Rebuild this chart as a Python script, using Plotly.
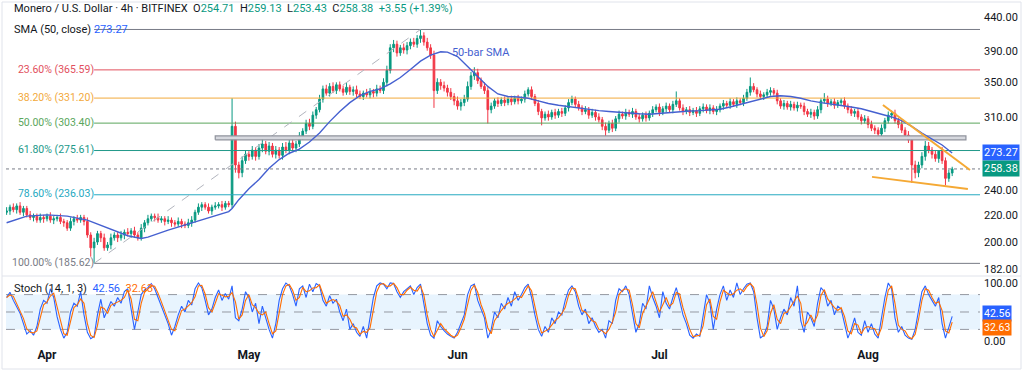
import math
import pandas as pd
import plotly.graph_objects as go

# ---------------- data ----------------
bar_start = "2025-03-26 00:00"   # 12h bars
first_open = 222
closes = [
    223, 226, 224, 227, 222, 225, 220, 218, 219, 216, 218, 217, 219, 216, 217, 218, 215, 214, 210, 215,
    217, 216, 218, 215, 205,
    196, 200, 206, 203, 196, 198, 203, 205, 203, 205, 207, 206, 208, 205, 203, 210,
    214, 217, 219, 218, 216, 217, 215, 216, 214, 213, 215, 213, 212, 214, 216, 222, 226, 228, 226, 223,
    226, 227, 228, 226, 229, 228,
    300, 262, 255, 266, 272, 270,
    276, 270, 278, 282, 275, 280, 272, 276, 271, 279, 276, 283, 278, 282,
    290, 295, 303, 300, 312, 318, 330, 342, 337,
    345, 340, 347, 342, 338, 344, 339, 341, 336, 333, 337, 335, 339, 337, 342, 340, 350,
    365, 395, 400, 388, 395, 392, 398, 403, 400, 408, 412, 403, 395, 385,
    340, 350, 346, 343, 338, 333, 328, 322, 326, 330, 345, 358, 362, 352,
    345, 340, 318, 322, 328, 325, 329, 326, 330, 327, 331, 328, 330, 336, 341, 333,
    325, 316, 309, 313, 310, 315, 312, 316, 314, 320, 326, 330,
    324, 320, 316, 318, 312, 315, 310, 307, 300, 296, 303, 298, 308, 313, 311, 315,
    313, 316, 310, 308, 312, 309, 314, 318, 321, 315, 319, 322, 318, 324, 328,
    320, 316, 318, 315, 317, 314, 319, 321, 317, 320, 316, 318, 322, 325,
    323, 327, 324, 328, 326, 331, 338, 345, 341, 336, 333,
    335, 338, 340, 337, 328, 322, 325, 321, 324, 320, 323, 322,
    316, 313, 315, 311, 318, 328, 330, 325, 327, 323, 326, 328,
    322, 318, 314, 316, 310, 306, 308, 302, 298, 296, 292, 298, 306, 312,
    314, 306, 302, 296, 291, 286,
    262, 255, 262, 270, 280, 276, 272, 268, 275, 266, 250, 254.71, 258.38,
]
# upper / lower wick lengths of each bar
hi_wick = [
    3, 2, 3, 2, 3, 2, 2, 3, 2, 2, 3, 2, 2, 3, 2, 2, 3, 2, 2, 3,
    2, 3, 2, 2, 3, 2, 3, 2, 2, 3, 2, 3, 2, 2, 3, 2, 3, 2, 3, 2,
    3, 2, 3, 2, 2, 3, 2, 2, 3, 2, 2, 3, 2, 2, 3, 3, 2, 3, 2, 2,
    3, 2, 3, 2, 3, 2, 2, 31, 5, 3, 4, 4, 3, 4, 3, 4, 5, 3, 4, 3,
    4, 3, 4, 5, 3, 4, 3, 4, 3, 4, 5, 4, 3, 5, 4, 5, 4, 5, 3, 4,
    4, 5, 3, 4, 5, 4, 3, 5, 4, 3, 5, 4, 5, 6, 5, 6, 5, 4, 6, 5,
    5, 6, 5, 9.18, 5, 6, 5, 6, 5, 4, 5, 4, 5, 4, 5, 4, 5, 6, 5, 7,
    5, 4, 5, 4, 4, 3, 4, 3, 4, 3, 4, 3, 4, 3, 4, 3, 4, 3, 4, 3,
    3, 4, 3, 4, 3, 4, 3, 4, 4, 3, 4, 3, 4, 3, 4, 3, 4, 3, 4, 3,
    4, 3, 4, 3, 4, 3, 4, 3, 4, 3, 4, 3, 4, 3, 4, 3, 4, 3, 4, 11,
    3, 4, 3, 4, 3, 4, 3, 4, 3, 4, 3, 4, 3, 4, 3, 4, 3, 4, 3, 4,
    4, 11, 4, 3, 4, 3, 4, 4, 3, 4, 3, 4, 3, 4, 3, 4, 3, 4, 3, 4,
    3, 4, 3, 7, 4, 3, 4, 3, 3, 4, 3, 4, 3, 4, 3, 4, 3, 4, 3, 3,
    4, 3, 4, 3, 4, 3, 4, 3, 4, 3, 4, 3, 4, 5, 4, 3, 4, 1, 4, 3, 3, 2,
]
lo_wick = [
    2, 3, 2, 3, 2, 3, 2, 2, 3, 2, 2, 3, 2, 2, 3, 2, 2, 3, 2, 2,
    3, 2, 2, 3, 2, 6, 10.38, 2, 3, 2, 2, 3, 2, 3, 2, 3, 2, 3, 2, 2,
    2, 3, 2, 2, 3, 2, 2, 3, 2, 3, 2, 2, 3, 2, 2, 3, 2, 2, 3, 2,
    2, 3, 2, 2, 3, 2, 2, 3, 7, 5, 4, 3, 4, 3, 4, 3, 4, 3, 4, 3,
    4, 3, 4, 3, 4, 3, 4, 3, 4, 3, 4, 3, 4, 3, 4, 3, 4, 3, 4, 3,
    4, 3, 4, 5, 4, 3, 4, 3, 4, 5, 4, 3, 4, 5, 4, 6, 5, 4, 5, 6,
    5, 4, 5, 6, 5, 4, 5, 20, 4, 5, 4, 5, 4, 5, 4, 5, 4, 3, 4, 5,
    4, 3, 4, 15, 4, 3, 4, 3, 4, 3, 4, 3, 4, 3, 4, 3, 4, 3, 4, 8,
    3, 4, 3, 4, 3, 4, 3, 4, 3, 4, 3, 4, 3, 4, 3, 4, 3, 4, 7, 3,
    4, 3, 4, 3, 4, 3, 4, 3, 4, 3, 4, 3, 4, 3, 4, 3, 4, 3, 4, 3,
    3, 4, 3, 4, 3, 4, 3, 4, 3, 4, 3, 4, 3, 4, 3, 4, 3, 4, 3, 4,
    3, 4, 3, 4, 3, 4, 3, 4, 3, 4, 3, 4, 3, 4, 3, 4, 3, 4, 3, 4,
    4, 3, 4, 3, 4, 3, 4, 3, 4, 3, 4, 3, 4, 3, 4, 3, 4, 3, 4, 3,
    3, 4, 3, 4, 3, 4, 3, 4, 3, 16, 5, 4, 3, 4, 3, 4, 3, 4, 3, 6, 3, 2.7,
]
# 50-bar SMA, sampled at bar indices
sma_idx = [0, 6, 12, 18, 24, 30, 36, 40, 42, 48, 54, 60, 66, 67, 69, 72, 75, 78, 81, 84, 87, 90, 93, 96,
           99, 102, 105, 108, 111, 114, 117, 120, 123, 126, 129, 131, 134, 137, 140, 143, 146, 149, 152,
           155, 158, 161, 164, 167, 170, 173, 176, 179, 182, 185, 188, 191, 194, 197, 200, 203, 206, 209,
           212, 215, 218, 221, 224, 227, 230, 233, 236, 239, 242, 245, 248, 251, 254, 257, 260, 263, 266,
           269, 272, 275, 278, 281]
sma_vals = [214, 219, 220, 219, 216, 210, 204.5, 202.5, 203.5, 208.5, 213, 218, 222.5, 225, 232, 241, 249,
            259, 267, 273, 277, 284, 293, 305, 316, 326, 334, 339, 342, 348, 356, 366, 377, 385, 389.5,
            389, 383, 370, 357, 345, 336, 333, 332.5, 331, 328, 325, 323, 321.5, 320, 318, 317, 316, 315,
            314, 313.5, 313, 314, 315, 316, 316.5, 317, 317.5, 318.5, 321, 324, 327, 330.5, 333, 334, 333,
            331, 328, 326, 324.5, 323, 321, 319, 316, 313, 310, 306, 300, 293, 287, 281, 273.27]
# Stochastic %K (12h samples)
stoch_k = [
    75, 84, 70, 58, 48, 30, 12, 18, 10, 25, 55, 70, 65, 90, 75, 42, 20, 5, 15, 50,
    65, 60, 85, 45, 15, 4, 8, 45, 72, 40, 55, 68, 60, 75, 65, 85, 90, 55, 20, 50,
    80, 88, 92, 99, 90, 75, 60, 45, 30, 10, 25, 45, 60, 50, 70, 62, 90, 100, 92, 70,
    45, 55, 75, 88, 70, 82, 72, 95, 40, 35, 55, 85, 75, 50, 65, 30, 60, 40, 20, 5,
    30, 70, 90, 100, 95, 80, 60, 90, 95, 75, 98, 85, 99, 95, 70, 60, 78, 65, 72, 50,
    35, 55, 20, 30, 15, 8, 25, 5, 40, 75, 95, 100, 98, 90, 100, 99, 85, 75, 85, 90,
    95, 80, 92, 98, 60, 30, 10, 5, 35, 25, 18, 12, 8, 5, 15, 30, 45, 80, 95, 98,
    70, 55, 40, 5, 20, 50, 40, 65, 55, 75, 60, 85, 70, 80, 92, 98, 75, 45, 20, 8,
    25, 15, 40, 30, 50, 45, 70, 88, 95, 85, 60, 45, 55, 30, 40, 25, 15, 20, 5, 35,
    30, 70, 90, 85, 95, 80, 45, 15, 30, 65, 55, 95, 75, 60, 40, 85, 65, 55, 75, 92,
    70, 45, 30, 10, 5, 12, 8, 45, 80, 65, 20, 55, 80, 95, 70, 88, 75, 100, 80, 90,
    98, 100, 85, 40, 5, 10, 25, 70, 55, 20, 40, 55, 45, 75, 60, 95, 35, 15, 50, 40,
    25, 65, 92, 85, 60, 70, 45, 60, 55, 30, 5, 20, 40, 15, 10, 35, 15, 30, 12, 5,
    40, 75, 100, 90, 40, 15, 25, 10, 5, 3, 20, 55, 85, 95, 80, 70, 60, 75, 30, 5, 22.7, 42.56,
]
fib_labels = ["0.00%", "23.60%", "38.20%", "50.00%", "61.80%", "78.60%", "100.00%"]
fib_values = [421.18, 365.59, 331.20, 303.40, 275.61, 236.03, 185.62]
fib_colors = ["#787b86", "#e2505d", "#f2a93b", "#5aa65c", "#22998a", "#26a9c1", "#787b86"]
fib_start = "2025-04-08 00:00"
fib_trend = (["2025-04-08 00:00", "2025-05-26 12:00"], [185.62, 421.18])
zone = (["2025-04-26 00:00", "2025-08-15 13:00"], [286.1, 290.1])
upper_trend = (["2025-08-03 05:00", "2025-08-16 03:30"], [323.3, 257.5])
lower_trend = (["2025-08-01 14:00", "2025-08-15 20:00"], [251.3, 240.9])
last_price = 258.38
last_sma = 273.27
last_k, last_d = 42.56, 32.63
price_ticks = [182, 200, 220, 240, 310, 350, 390, 440]
stoch_ticks = [0, 100]
month_ticks = ["2025-04-01", "2025-05-01", "2025-06-01", "2025-07-01", "2025-08-01"]
month_text = ["Apr", "May", "Jun", "Jul", "Aug"]

# ---------------- build ----------------
times = pd.date_range(bar_start, periods=len(closes), freq="12h")
opens = [first_open] + closes[:-1]
highs = [max(o, c) + w for o, c, w in zip(opens, closes, hi_wick)]
lows = [min(o, c) - w for o, c, w in zip(opens, closes, lo_wick)]
stoch_d = pd.Series(stoch_k).rolling(2, min_periods=1).mean().tolist()
sma_t = [times[i] for i in sma_idx]

X_L, X_R = "2025-03-25 21:50", "2025-08-17 15:10"
UP, DN = "#089981", "#f23645"
BLUE, ORANGE = "#2962ff", "#ff6d00"
SMA_C = "#4560d0"
FONT = "Roboto"

fig = go.Figure()

# stochastic pane
fig.add_trace(go.Scatter(x=[X_L, X_R, X_R, X_L, X_L], y=[20, 20, 80, 80, 20], yaxis="y2",
                         fill="toself", fillcolor="rgba(33,150,243,0.10)", line=dict(width=0),
                         mode="lines", hoverinfo="skip"))
for lv in (80, 50, 20):
    fig.add_trace(go.Scatter(x=[X_L, X_R], y=[lv, lv], yaxis="y2", mode="lines",
                             line=dict(color="#9598a1", width=1, dash="dash"), hoverinfo="skip"))
fig.add_trace(go.Scatter(x=times, y=stoch_k, yaxis="y2", mode="lines",
                         line=dict(color=BLUE, width=1.1)))
fig.add_trace(go.Scatter(x=times, y=stoch_d, yaxis="y2", mode="lines",
                         line=dict(color=ORANGE, width=1.1)))

# fib levels
for lab, v, c in zip(fib_labels, fib_values, fib_colors):
    fig.add_trace(go.Scatter(x=[fib_start, X_R], y=[v, v], mode="lines",
                             line=dict(color=c, width=1), hoverinfo="skip"))
    if lab != "0.00%":
        fig.add_trace(go.Scatter(x=[fib_start], y=[v], mode="text",
                                 text=[f"{lab} ({v:.2f})"], textposition="middle left",
                                 textfont=dict(color=c, size=10.5, family=FONT)))
fig.add_trace(go.Scatter(x=fib_trend[0], y=fib_trend[1], mode="lines",
                         line=dict(color="#b2b5be", width=1, dash="dash")))
# zone
zx, zy = zone
fig.add_trace(go.Scatter(x=[zx[0], zx[1], zx[1], zx[0], zx[0]],
                         y=[zy[0], zy[0], zy[1], zy[1], zy[0]], mode="lines", fill="toself",
                         fillcolor="#d6d8de", line=dict(color="#8f929c", width=1.2)))
# last price dotted
fig.add_trace(go.Scatter(x=[X_L, X_R], y=[last_price, last_price], mode="lines",
                         line=dict(color="#787b86", width=1, dash="dot")))
# candles
fig.add_trace(go.Candlestick(x=times, open=opens, high=highs, low=lows, close=closes,
                             increasing=dict(line=dict(color=UP, width=1), fillcolor=UP),
                             decreasing=dict(line=dict(color=DN, width=1), fillcolor=DN),
                             whiskerwidth=0))
# SMA
fig.add_trace(go.Scatter(x=sma_t, y=sma_vals, mode="lines", line=dict(color=SMA_C, width=1.4)))
fig.add_trace(go.Scatter(x=["2025-05-31 04:00"], y=[388], mode="text", text=["50-bar SMA"],
                         textposition="middle right",
                         textfont=dict(color=SMA_C, size=11, family=FONT)))
# trend lines
for tl in (upper_trend, lower_trend):
    fig.add_trace(go.Scatter(x=tl[0], y=tl[1], mode="lines",
                             line=dict(color="#f5a934", width=2)))

H_PLOT = 343.0
def py(pix):
    return (348 - pix) / H_PLOT
def px(pix):
    return (pix - 6) / 974.0

G = "<span style='color:#089981'>"
annotations = [
    dict(xref="paper", yref="paper", x=px(12), y=py(9), xanchor="left", yanchor="middle",
         showarrow=False, font=dict(size=11, color="#131722", family=FONT),
         text=(f"Monero / U.S. Dollar · 4h · BITFINEX&nbsp;&nbsp;O{G}254.71</span>"
               f"&nbsp;&nbsp;H{G}259.13</span>&nbsp;&nbsp;L{G}253.43</span>"
               f"&nbsp;&nbsp;C{G}258.38</span>&nbsp;&nbsp;{G}+3.55 (+1.39%)</span>")),
    dict(xref="paper", yref="paper", x=px(12), y=py(29), xanchor="left", yanchor="middle",
         showarrow=False, font=dict(size=11, color="#131722", family=FONT),
         text="SMA (50, close)&nbsp;<span style='color:#2962ff'>273.27</span>"),
    dict(xref="paper", yref="paper", x=px(12), y=py(288), xanchor="left", yanchor="middle",
         showarrow=False, font=dict(size=11, color="#131722", family=FONT),
         text=("Stoch (14, 1, 3)&nbsp;&nbsp;<span style='color:#2962ff'>42.56</span>"
               "&nbsp;&nbsp;<span style='color:#ff6d00'>32.63</span>")),
    dict(xref="paper", yref="y", x=1, y=math.log10(last_sma), xanchor="left", yanchor="middle",
         xshift=2, showarrow=False, bgcolor=BLUE, borderpad=1,
         font=dict(size=11, color="white", family=FONT), text=f"{last_sma:.2f}"),
    dict(xref="paper", yref="y", x=1, y=math.log10(last_price), xanchor="left", yanchor="middle",
         xshift=2, showarrow=False, bgcolor=UP, borderpad=1,
         font=dict(size=11, color="white", family=FONT), text=f"{last_price:.2f}"),
    dict(xref="paper", yref="y2", x=1, y=last_k, xanchor="left", yanchor="middle",
         xshift=2, yshift=3, showarrow=False, bgcolor=BLUE, borderpad=1,
         font=dict(size=10.5, color="white", family=FONT), text=f"{last_k:.2f}"),
    dict(xref="paper", yref="y2", x=1, y=last_d, xanchor="left", yanchor="middle",
         xshift=2, yshift=-5, showarrow=False, bgcolor=ORANGE, borderpad=1,
         font=dict(size=10.5, color="white", family=FONT), text=f"{last_d:.2f}"),
]

shapes = [
    dict(type="rect", xref="paper", yref="paper", x0=px(2), x1=px(1021), y0=py(369), y1=py(2),
         line=dict(color="#e0e3eb", width=1)),
    dict(type="line", xref="paper", yref="paper", x0=px(2), x1=px(1021), y0=py(276), y1=py(276),
         line=dict(color="#e0e3eb", width=1)),
]

fig.update_layout(
    width=1024, height=374,
    margin=dict(l=6, r=44, t=5, b=26),
    paper_bgcolor="white", plot_bgcolor="white",
    showlegend=False,
    font=dict(family=FONT, size=11, color="#131722"),
    xaxis=dict(range=[X_L, X_R], anchor="y2", showgrid=False, zeroline=False,
               rangeslider=dict(visible=False), tickvals=month_ticks,
               ticktext=[f"<b>{m}</b>" for m in month_text], ticks="",
               tickfont=dict(size=12, color="#131722", family=FONT), showline=False),
    yaxis=dict(type="log", domain=[py(275), 1.0],
               range=[math.log10(178.2), math.log10(458.9)],
               side="right", showgrid=False, zeroline=False, tickvals=price_ticks,
               ticktext=[f"{v:.2f}" for v in price_ticks], ticks="", ticklabelstandoff=3,
               tickfont=dict(size=11, color="#131722", family=FONT)),
    yaxis2=dict(domain=[py(346), py(277)], range=[-8.6, 110.3], side="right",
                showgrid=False, zeroline=False, tickvals=stoch_ticks,
                ticktext=[f"{v:.2f}" for v in stoch_ticks], ticks="", ticklabelstandoff=3,
                tickfont=dict(size=11, color="#131722", family=FONT)),
    annotations=annotations,
    shapes=shapes,
)

fig.write_html("out.html", config={"displayModeBar": False},
               post_script="document.body.style.margin='0';document.body.style.padding='0';")
